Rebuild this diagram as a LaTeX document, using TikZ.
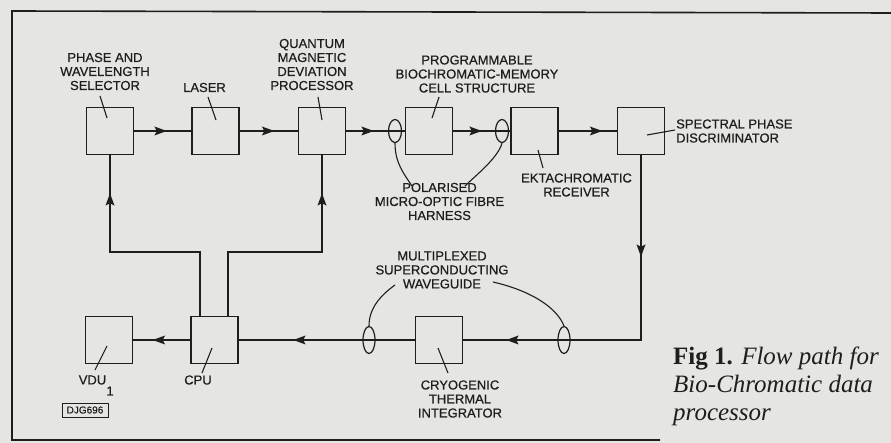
\documentclass[tikz,border=0pt]{standalone}
\usepackage{fontspec}
\setmainfont{Liberation Serif}
\newfontfamily\labfont[FakeBold=0.5]{Liberation Sans}
\usetikzlibrary{arrows.meta,decorations.markings,shapes.geometric}
\definecolor{paper}{RGB}{229,229,225}
\definecolor{ink}{RGB}{30,30,30}
\newcommand\flowtip{\fill[ink] (1.5pt,0pt) -- (-11pt,4.5pt) -- (-8.5pt,0pt) -- (-11pt,-4.5pt) -- cycle;}
\begin{document}
\begin{tikzpicture}[x=1pt,y=-1pt,
  blk/.style={draw=ink,line width=1.7pt,minimum width=47pt,minimum height=47pt,inner sep=0pt},
  lab/.style={font=\labfont\fontsize{13}{14}\selectfont,text=ink,align=center,inner sep=0pt},
  wire/.style={color=ink,line width=2pt},
  lead/.style={draw=ink,line width=1.1pt},
  harness/.style={draw=ink,line width=1.2pt,ellipse,minimum width=13pt,minimum height=23pt,inner sep=0pt},
  arrowat/.style={postaction={decorate},decoration={markings,mark=at position #1 with {\flowtip}}},
]
\fill[paper] (0,0) rectangle (891,443);
\useasboundingbox (0,0) rectangle (891,443);
% frame
\draw[ink,line width=1.6pt] (891,13) -- (12,11) -- (12,440) -- (660,440);

% blocks
\node[blk] (pws) at (110,131) {};
\node[blk] (laser) at (215.5,131) {};
\node[blk] (qmdp) at (322,131) {};
\node[blk] (prog) at (429,131) {};
\node[blk] (ekt) at (534.5,131) {};
\node[blk] (spd) at (641,131) {};
\node[blk] (cryo) at (439,340) {};
\node[blk] (cpu) at (214.5,340) {};
\node[blk] (vdu) at (109,340) {};

% wires
\draw[wire,arrowat=31pt] (pws) -- (laser);
\draw[wire,arrowat=33pt] (laser) -- (qmdp);
\draw[wire,arrowat=26pt] (qmdp) -- (prog);
\draw[wire,arrowat=27pt] (prog) -- (ekt);
\draw[wire,arrowat=42pt] (ekt) -- (spd);
\draw[wire,postaction={decorate},decoration={markings,
   mark=at position 100pt with {\flowtip},
   mark=at position 318pt with {\flowtip}}]
   (spd.south) |- (cryo.east);
\draw[wire,arrowat=120pt] (cryo) -- (cpu);
\draw[wire,arrowat=36pt] (cpu) -- (vdu);
\draw[wire,arrowat=211pt] ([xshift=-14.5pt]cpu.north) -- ++(0,-64) -| (pws.south);
\draw[wire,arrowat=215pt] ([xshift=13.5pt]cpu.north) -- ++(0,-64) -| (qmdp.south);

% harness ellipses
\node[harness] (h1) at (395,131) {};
\node[harness] (h2) at (502,131) {};
\node[harness,minimum width=12pt,minimum height=27pt] (w1) at (369,340) {};
\node[harness,minimum width=12pt,minimum height=27pt] (w2) at (564,340) {};

% labels
\node[lab] (lpws) at (105,71.5) {PHASE AND\\WAVELENGTH\\SELECTOR};
\node[lab] (llaser) at (204.5,87.5) {LASER};
\node[lab] (lqmdp) at (312,64.5) {QUANTUM\\MAGNETIC\\DEVIATION\\PROCESSOR};
\node[lab] (lprog) at (477,74) {PROGRAMMABLE\\BIOCHROMATIC-MEMORY\\CELL STRUCTURE};
\node[lab] (lharn) at (439.5,201.5) {POLARISED\\MICRO-OPTIC FIBRE\\HARNESS};
\node[lab] (lekt) at (576.5,185) {EKTACHROMATIC\\RECEIVER};
\node[lab,anchor=west,align=left] (lspd) at (676,131) {SPECTRAL PHASE\\DISCRIMINATOR};
\node[lab] (lwave) at (442,270) {MULTIPLEXED\\SUPERCONDUCTING\\WAVEGUIDE};
\node[lab] (lcryo) at (460,399) {CRYOGENIC\\THERMAL\\INTEGRATOR};
\node[lab] (lcpu) at (198,380) {CPU};
\node[lab] (lvdu) at (92.5,380) {VDU};
\node[lab] (lvdus) at (110,391) {1};
\node[draw=ink,line width=0.8pt,font=\labfont\fontsize{10}{10}\selectfont,text=ink,minimum width=46pt,minimum height=14pt,inner sep=1pt] (djg) at (85,410) {DJG696};

% straight leaders
\coordinate (a1) at (100,96);  \coordinate (b1) at (107,118);
\coordinate (a2) at (208,97);  \coordinate (b2) at (216,120);
\coordinate (a3) at (318,97);  \coordinate (b3) at (322,120);
\coordinate (a4) at (439,97);  \coordinate (b4) at (432,118);
\coordinate (a5) at (543,168); \coordinate (b5) at (538,150);
\coordinate (a6) at (675,130); \coordinate (b6) at (647,135);
\coordinate (a7) at (448,373); \coordinate (b7) at (438,348);
\coordinate (a8) at (202,373); \coordinate (b8) at (212,348);
\coordinate (a9) at (95,370);  \coordinate (b9) at (107,346);
\foreach \i in {1,...,9} {\draw[lead] (a\i) -- (b\i);}

% curved leaders
\coordinate (hl) at (412,186);
\coordinate (hr) at (465,186);
\coordinate (wl) at (395,285);
\coordinate (wr) at (493,282);
\draw[lead] (h1.south) .. controls +(0,20) and +(-8,-12) .. (hl);
\draw[lead] (h2.south) .. controls +(-4,15) and +(10,-10) .. (hr);
\draw[lead] (wl) .. controls +(-14,10) and +(0,-18) .. (w1.north);
\draw[lead] (wr) .. controls +(35,8) and +(-8,-20) .. (w2.north);

% caption
\node[anchor=north west,inner sep=0pt,align=left,font=\fontsize{25}{28}\selectfont,text=ink] (cap) at (673,347)
  {\textbf{Fig 1.} \textit{Flow path for}\\\textit{Bio-Chromatic data}\\\textit{processor}};
\end{tikzpicture}
\end{document}
